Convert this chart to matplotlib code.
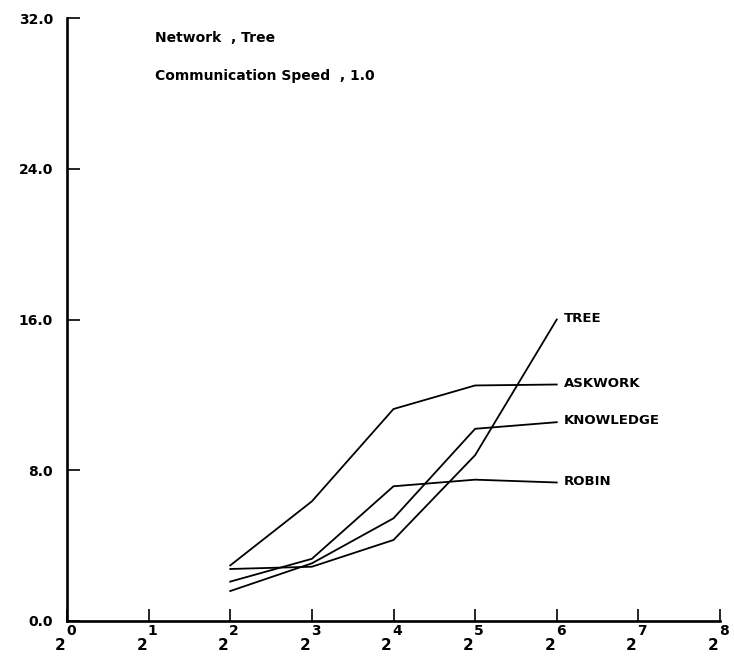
import matplotlib
matplotlib.use("Agg")
import matplotlib.pyplot as plt
from matplotlib.transforms import blended_transform_factory, offset_copy

# Number of processors (powers of two) and speedup per load-balancing strategy
processors = [4, 8, 16, 32, 64]
tree = [2.76, 2.88, 4.3, 8.8, 16.0]
askwork = [2.95, 6.35, 11.25, 12.5, 12.55]
knowledge = [1.59, 3.06, 5.45, 10.2, 10.55]
robin = [2.09, 3.3, 7.15, 7.5, 7.35]

series = [("TREE", tree), ("ASKWORK", askwork),
          ("KNOWLEDGE", knowledge), ("ROBIN", robin)]

y_ticks = [0.0, 8.0, 16.0, 24.0, 32.0]
x_exponents = list(range(0, 9))

fig = plt.figure(figsize=(7.34, 6.58), dpi=100)
ax = fig.add_axes([67 / 734, 37 / 658, (720 - 67) / 734, (621 - 18) / 658])

for name, values in series:
    ax.plot(processors, values, color="black", lw=1.3, solid_joinstyle="miter")
    ax.annotate(name, xy=(processors[-1], values[-1]), xytext=(5, 1),
                textcoords="offset points", ha="left", va="center",
                fontsize=9.5, fontweight="bold", color="black")

ax.set_xscale("log", base=2)
ax.set_xlim(1, 256)
ax.set_ylim(0, 32)

for side in ("top", "right"):
    ax.spines[side].set_visible(False)
for side in ("left", "bottom"):
    ax.spines[side].set_linewidth(1.9)
    ax.spines[side].set_color("black")

ax.set_yticks(y_ticks)
ax.set_yticklabels([f"{v:.1f}" for v in y_ticks], fontsize=10, fontweight="bold")
ax.tick_params(axis="y", direction="in", length=9, width=1.2, pad=10)

ax.set_xticks([2 ** e for e in x_exponents])
ax.set_xticklabels([])
ax.xaxis.set_minor_locator(matplotlib.ticker.NullLocator())
ax.tick_params(axis="x", direction="in", length=9, width=1.2)

# Power-of-two tick labels: base "2" below the axis with a raised exponent
trans = blended_transform_factory(ax.transData, ax.transAxes)
for e in x_exponents:
    base_t = offset_copy(trans, fig=fig, x=-7, y=-29, units="dots")
    exp_t = offset_copy(trans, fig=fig, x=4, y=-14, units="dots")
    ax.text(2 ** e, 0, "2", transform=base_t, ha="center", va="baseline",
            fontsize=11, fontweight="bold", clip_on=False)
    ax.text(2 ** e, 0, str(e), transform=exp_t, ha="center", va="baseline",
            fontsize=10, fontweight="bold", clip_on=False)

fig.text(155 / 734, 1 - 42 / 658, "Network  , Tree", fontsize=10,
         fontweight="bold", ha="left", va="baseline")
fig.text(155 / 734, 1 - 80 / 658, "Communication Speed  , 1.0", fontsize=10,
         fontweight="bold", ha="left", va="baseline")

fig.savefig("out.png", dpi=100, facecolor="white")
